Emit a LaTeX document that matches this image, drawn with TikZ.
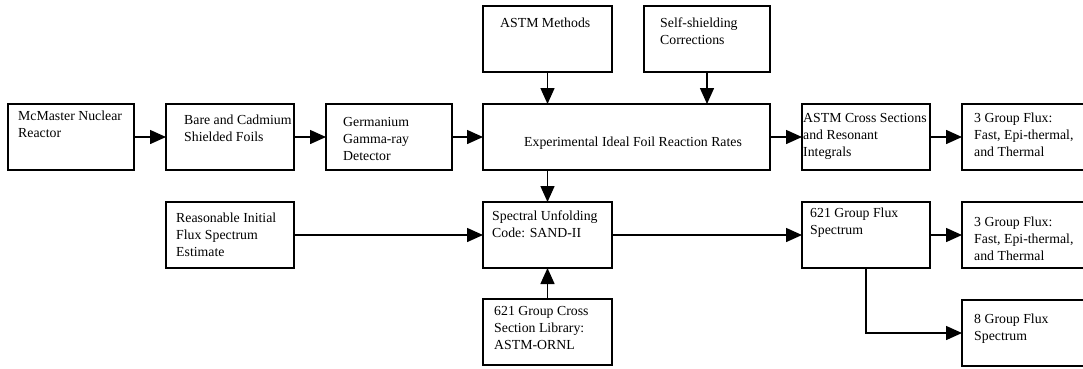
\documentclass[tikz,border=0pt]{standalone}
\usepackage{fontspec}
\setmainfont{Liberation Serif}
\usetikzlibrary{arrows.meta, positioning}

\begin{document}
\begin{tikzpicture}[x=1pt, y=-1pt, node distance=32pt]
\tikzstyle{block}=[rectangle, draw=black, line width=1.8pt, minimum width=128pt, minimum height=66pt, inner sep=0pt, outer sep=0pt]
\tikzstyle{lbl}=[inner sep=0pt, align=left, font=\fontsize{13.8}{17}\selectfont]
\tikzstyle{flow}=[line width=1.5pt, -{Triangle[length=16pt, width=14pt]}]

\useasboundingbox (0,0) rectangle (1083,368);

% measurement chain
\node[block, minimum width=126pt] (reactor) at (71,137) {};
\node[block] (foils) [right = of reactor] {};
\node[block, minimum width=126pt] (detector) [right = of foils] {};
\node[block, minimum width=287pt] (rates) [right = 31pt of detector] {};
\node[block] (xsec) [right = of rates] {};
\node[block] (flux3a) [right = of xsec] {};

% corrections feeding the rates
\node[block, minimum width=129pt] (methods) [above = of rates.north west, anchor=south west] {};
\node[block, minimum width=126pt] (shield) [above = of rates.north east, anchor=south east] {};

% unfolding row
\node[block, minimum width=129pt] (spectral) [below = of rates.south west, anchor=north west] {};
\node[block] (guess) [below = of foils] {};
\node[block, minimum width=129pt] (library) [below = 31pt of spectral] {};
\node[block] (flux621) [below = of xsec] {};
\node[block] (flux3b) [below = of flux3a] {};
\node[block] (flux8) [below = of flux3b] {};

% box texts
\node[lbl, below right = 7pt and 10pt of reactor.north west] (reactor_lbl) {McMaster Nuclear\\Reactor};
\node[lbl, below right = 11pt and 18pt of foils.north west] (foils_lbl) {Bare and Cadmium\\Shielded Foils};
\node[lbl, below right = 13pt and 17pt of detector.north west] (detector_lbl) {Germanium\\Gamma-ray\\Detector};
\node[lbl, below right = 33pt and 41pt of rates.north west] (rates_lbl) {Experimental Ideal Foil Reaction Rates};
\node[lbl, below right = 9pt and 1pt of xsec.north west] (xsec_lbl) {ASTM Cross Sections\\and Resonant\\Integrals};
\node[lbl, below right = 9pt and 12pt of flux3a.north west] (flux3a_lbl) {3 Group Flux:\\Fast, Epi-thermal,\\and Thermal};
\node[lbl, below right = 12pt and 17pt of methods.north west] (methods_lbl) {ASTM Methods};
\node[lbl, below right = 12pt and 16pt of shield.north west] (shield_lbl) {Self-shielding\\Corrections};
\node[lbl, below right = 11pt and 10pt of guess.north west] (guess_lbl) {Reasonable Initial\\Flux Spectrum\\Estimate};
\node[lbl, below right = 9pt and 9pt of spectral.north west] (spectral_lbl) {Spectral Unfolding\\Code: SAND-II};
\node[lbl, below right = 7pt and 11pt of library.north west] (library_lbl) {621 Group Cross\\Section Library:\\ASTM-ORNL};
\node[lbl, below right = 6pt and 8pt of flux621.north west] (flux621_lbl) {621 Group Flux\\Spectrum};
\node[lbl, below right = 15pt and 12pt of flux3b.north west] (flux3b_lbl) {3 Group Flux:\\Fast, Epi-thermal,\\and Thermal};
\node[lbl, below right = 14pt and 12pt of flux8.north west] (flux8_lbl) {8 Group Flux\\Spectrum};

% connectors
\draw[flow] (reactor) -- (foils);
\draw[flow] (foils) -- (detector);
\draw[flow] (detector) -- (rates);
\draw[flow] (rates) -- (xsec);
\draw[flow] (xsec) -- (flux3a);
\draw[flow] (methods) -- (methods |- rates.north);
\draw[flow] (shield) -- (shield |- rates.north);
\draw[flow] (spectral |- rates.south) -- (spectral);
\draw[flow] (guess) -- (spectral);
\draw[flow] (library) -- (spectral);
\draw[flow] (spectral) -- (flux621);
\draw[flow] (flux621) -- (flux3b);
\draw[flow] (flux621) |- (flux8);
\end{tikzpicture}
\end{document}
